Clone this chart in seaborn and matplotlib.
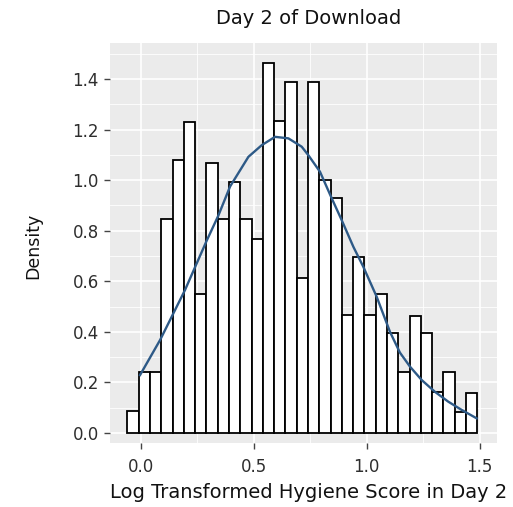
import pandas as pd
import matplotlib
matplotlib.use("Agg")
import matplotlib.pyplot as plt
from matplotlib.ticker import MultipleLocator
import seaborn as sns

# Histogram bins (log-transformed hygiene score) and their density heights
bin_start = -0.06
bin_width = 0.05
bar_density = [0.088, 0.242, 0.242, 0.845, 1.079, 1.230, 0.548, 1.066, 0.845, 0.993,
               0.845, 0.769, 1.464, 1.233, 1.389, 0.611, 1.389, 1.000, 0.928, 0.466,
               0.697, 0.466, 0.548, 0.394, 0.242, 0.462, 0.394, 0.163, 0.242, 0.084,
               0.160]

# Smoothed density estimate
curve_x = [-0.004, 0.085, 0.195, 0.291, 0.343, 0.395, 0.476, 0.535, 0.594, 0.653,
           0.712, 0.741, 0.793, 0.845, 0.889, 0.941, 0.985, 1.044, 1.103, 1.147,
           1.192, 1.244, 1.302, 1.361, 1.421, 1.487]
curve_y = [0.229, 0.368, 0.565, 0.760, 0.860, 0.975, 1.092, 1.138, 1.171, 1.165,
           1.132, 1.099, 1.033, 0.928, 0.842, 0.736, 0.657, 0.539, 0.400, 0.318,
           0.262, 0.209, 0.163, 0.124, 0.091, 0.058]

x_ticks = [0.0, 0.5, 1.0, 1.5]
x_tick_labels = ["0.0", "0.5", "1.0", "1.5"]
y_ticks = [0.0, 0.2, 0.4, 0.6, 0.8, 1.0, 1.2, 1.4]
y_tick_labels = ["0.0", "0.2", "0.4", "0.6", "0.8", "1.0", "1.2", "1.4"]

title = "Day 2 of Download"
x_label = "Log Transformed Hygiene Score in Day 2"
y_label = "Density"

n_bins = len(bar_density)
edges = [bin_start + bin_width * i for i in range(n_bins + 1)]
bars = pd.DataFrame({"score": [(edges[i] + edges[i + 1]) / 2 for i in range(n_bins)],
                     "density": bar_density})
curve = pd.DataFrame({"score": curve_x, "density": curve_y})

W, H = 513, 507
fig = plt.figure(figsize=(W / 100, H / 100), dpi=100)
fig.patch.set_facecolor("white")
ax = fig.add_axes([110 / W, 1 - 443 / H, 387 / W, 400 / H])
ax.set_facecolor("#EBEBEB")

sns.histplot(data=bars, x="score", weights="density", bins=edges, stat="count",
             color="white", edgecolor="black", linewidth=1.3, alpha=1.0, ax=ax)
sns.lineplot(data=curve, x="score", y="density", color="#2E5A87",
             linewidth=1.7, ax=ax)

ax.set_xlim(-0.137, 1.577)
ax.set_ylim(-0.0395, 1.542)

ax.set_xticks(x_ticks)
ax.set_xticklabels(x_tick_labels)
ax.set_yticks(y_ticks)
ax.set_yticklabels(y_tick_labels)
ax.xaxis.set_minor_locator(MultipleLocator(0.25))
ax.yaxis.set_minor_locator(MultipleLocator(0.1))
ax.set_axisbelow(True)
ax.grid(which="major", color="white", linewidth=1.2)
ax.grid(which="minor", color="white", linewidth=0.6)
for s in ax.spines.values():
    s.set_visible(False)

ax.tick_params(which="major", length=4, width=1, color="#444444",
               labelsize=12, labelcolor="#2E2E2E", pad=4)
ax.tick_params(axis="x", which="major", pad=7)
ax.tick_params(which="minor", length=0)

ax.set_xlabel("")
ax.set_ylabel("")
fig.text(309 / W, 1 - 18 / H, title, ha="center", va="center",
         fontsize=14, color="#111111")
fig.text(309 / W, 1 - 493 / H, x_label, ha="center", va="center",
         fontsize=14, color="#111111")
fig.text(33 / W, 1 - 246 / H, y_label, ha="center", va="center",
         rotation=90, fontsize=12.5, color="#111111")

fig.savefig("out.png", dpi=100)
